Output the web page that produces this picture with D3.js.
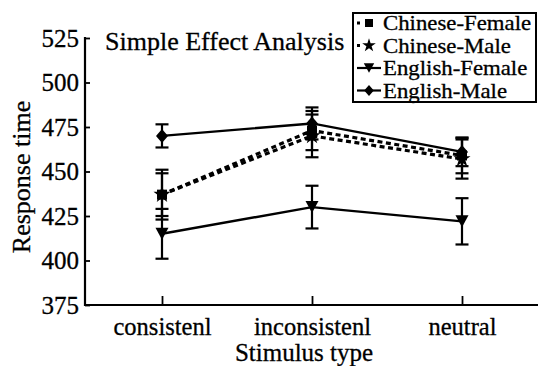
<!DOCTYPE html>
<html>
<head>
<meta charset="utf-8">
<script src="https://cdn.jsdelivr.net/npm/d3@7/dist/d3.min.js"></script>
<style>
  html, body { margin: 0; padding: 0; background: #fff; }
  svg { display: block; }
  text { font-family: "Liberation Serif", "Times New Roman", serif; fill: #000; }
</style>
</head>
<body>
<svg id="chart" width="538" height="366"></svg>
<script>
// ---- data ----
const categories = ["consistenl", "inconsistenl", "neutral"];
const seriesNames = ["Chinese-Female", "Chinese-Male", "English-Female", "English-Male"];
const chineseFemale = [437, 473, 459];
const chineseMale   = [437, 470, 457];
const englishFemale = [415, 430, 422];
const englishMale   = [470, 477, 461];
const chineseFemaleErr = [14, 11, 10];
const chineseMaleErr   = [12, 12, 11];
const englishFemaleErr = [14, 12, 13];
const englishMaleErr   = [6.5, 9, 8];
const yTicks = [375, 400, 425, 450, 475, 500, 525];
const title = "Simple Effect Analysis";
const xTitle = "Stimulus type";
const yTitle = "Response time";

const series = [
  { name: seriesNames[0], values: chineseFemale, err: chineseFemaleErr, dashed: true,  symbol: "square" },
  { name: seriesNames[1], values: chineseMale,   err: chineseMaleErr,   dashed: true,  symbol: "star" },
  { name: seriesNames[2], values: englishFemale, err: englishFemaleErr, dashed: false, symbol: "down" },
  { name: seriesNames[3], values: englishMale,   err: englishMaleErr,   dashed: false, symbol: "diamond" }
];

const svg = d3.select("#chart");
const x = d3.scalePoint().domain(categories).range([87, 537]).padding(0.5);
const y = d3.scaleLinear().domain([375, 525]).range([305, 38]);
const axisX0 = 85, axisX1 = 538;
const serif = "Liberation Serif";

function symbolPath(kind) {
  switch (kind) {
    case "square": return d3.symbol(d3.symbolSquare, 100)();
    case "star": return d3.symbol(d3.symbolStar, 90)();
    case "down": return "M-6.5,-6 L6.5,-6 L0,6 Z";
    case "diamond": return "M0,-7 L6,0 L0,7 L-6,0 Z";
  }
}

// ---- axes ----
const yAxis = d3.axisLeft(y).tickValues(yTicks).tickSize(-5).tickSizeOuter(0).tickPadding(6);
const gy = svg.append("g").attr("transform", `translate(${axisX0},0)`).call(yAxis);
gy.attr("font-family", serif);
gy.select(".domain").remove();
gy.selectAll(".tick line").attr("stroke", "#000").attr("stroke-width", 1.8);
gy.selectAll(".tick text").attr("font-size", 25).attr("font-family", serif).attr("fill", "#000")
  .attr("stroke", "#000").attr("stroke-width", 0.3);
svg.append("line").attr("x1", axisX0).attr("x2", axisX0)
  .attr("y1", y(525) - 1).attr("y2", y(375) + 1)
  .attr("stroke", "#000").attr("stroke-width", 2.2);

const xAxis = d3.axisBottom(x).tickSize(-9).tickSizeOuter(0).tickPadding(13);
const gx = svg.append("g").attr("transform", `translate(0,${y(375)})`).call(xAxis);
gx.attr("font-family", serif);
gx.select(".domain").remove();
gx.selectAll(".tick line").attr("stroke", "#000").attr("stroke-width", 1.8);
gx.selectAll(".tick text").attr("font-size", 24.5).attr("font-family", serif).attr("fill", "#000")
  .attr("stroke", "#000").attr("stroke-width", 0.3);
svg.append("line").attr("x1", axisX0).attr("x2", axisX1)
  .attr("y1", y(375)).attr("y2", y(375))
  .attr("stroke", "#000").attr("stroke-width", 2.2);

// ---- titles ----
svg.append("text").attr("x", 105).attr("y", 50).attr("font-size", 26)
  .attr("stroke", "#000").attr("stroke-width", 0.3).text(title);
svg.append("text").attr("x", x("inconsistenl") - 8).attr("y", 361).attr("text-anchor", "middle")
  .attr("font-size", 25).attr("stroke", "#000").attr("stroke-width", 0.3).text(xTitle);
svg.append("text").attr("transform", "translate(30,177) rotate(-90)").attr("text-anchor", "middle")
  .attr("font-size", 26).attr("stroke", "#000").attr("stroke-width", 0.3).text(yTitle);

// ---- lines ----
const line = d3.line().x((d, i) => x(categories[i])).y(d => y(d));
series.forEach(s => {
  svg.append("path").attr("d", line(s.values))
    .attr("fill", "none").attr("stroke", "#000")
    .attr("stroke-width", s.dashed ? 3.2 : 2.4)
    .attr("stroke-dasharray", s.dashed ? "5,3.5" : null);
});

// ---- error bars ----
const capW = 6.5;
series.forEach(s => {
  s.values.forEach((v, i) => {
    const cx = x(categories[i]);
    const g = svg.append("g").attr("stroke", "#000").attr("stroke-width", 2.2);
    g.append("line").attr("x1", cx).attr("x2", cx).attr("y1", y(v - s.err[i])).attr("y2", y(v + s.err[i]));
    g.append("line").attr("x1", cx - capW).attr("x2", cx + capW).attr("y1", y(v + s.err[i])).attr("y2", y(v + s.err[i]));
    g.append("line").attr("x1", cx - capW).attr("x2", cx + capW).attr("y1", y(v - s.err[i])).attr("y2", y(v - s.err[i]));
  });
});

// ---- markers ----
series.forEach(s => {
  s.values.forEach((v, i) => {
    svg.append("path").attr("d", symbolPath(s.symbol))
      .attr("transform", `translate(${x(categories[i])},${y(v)})`)
      .attr("fill", "#000");
  });
});

// ---- legend ----
const lg = svg.append("g");
lg.append("rect").attr("x", 353).attr("y", 13).attr("width", 183).attr("height", 89)
  .attr("fill", "#fff").attr("stroke", "#000").attr("stroke-width", 2);
series.forEach((s, i) => {
  const cy = 23 + i * 22.5;
  if (s.dashed) {
    lg.append("line").attr("x1", 357).attr("x2", 380).attr("y1", cy).attr("y2", cy)
      .attr("stroke", "#000").attr("stroke-width", 3).attr("stroke-dasharray", "3,20");
  } else {
    lg.append("line").attr("x1", 357).attr("x2", 381).attr("y1", cy).attr("y2", cy)
      .attr("stroke", "#000").attr("stroke-width", 2.2);
  }
  lg.append("path").attr("d", symbolPath(s.symbol))
    .attr("transform", `translate(369,${cy}) scale(0.8)`).attr("fill", "#000");
  lg.append("text").attr("transform", `translate(383,${cy + 7}) scale(1.14,1)`)
    .attr("font-size", 20).attr("stroke", "#000").attr("stroke-width", 0.3).text(s.name);
});
</script>
</body>
</html>
